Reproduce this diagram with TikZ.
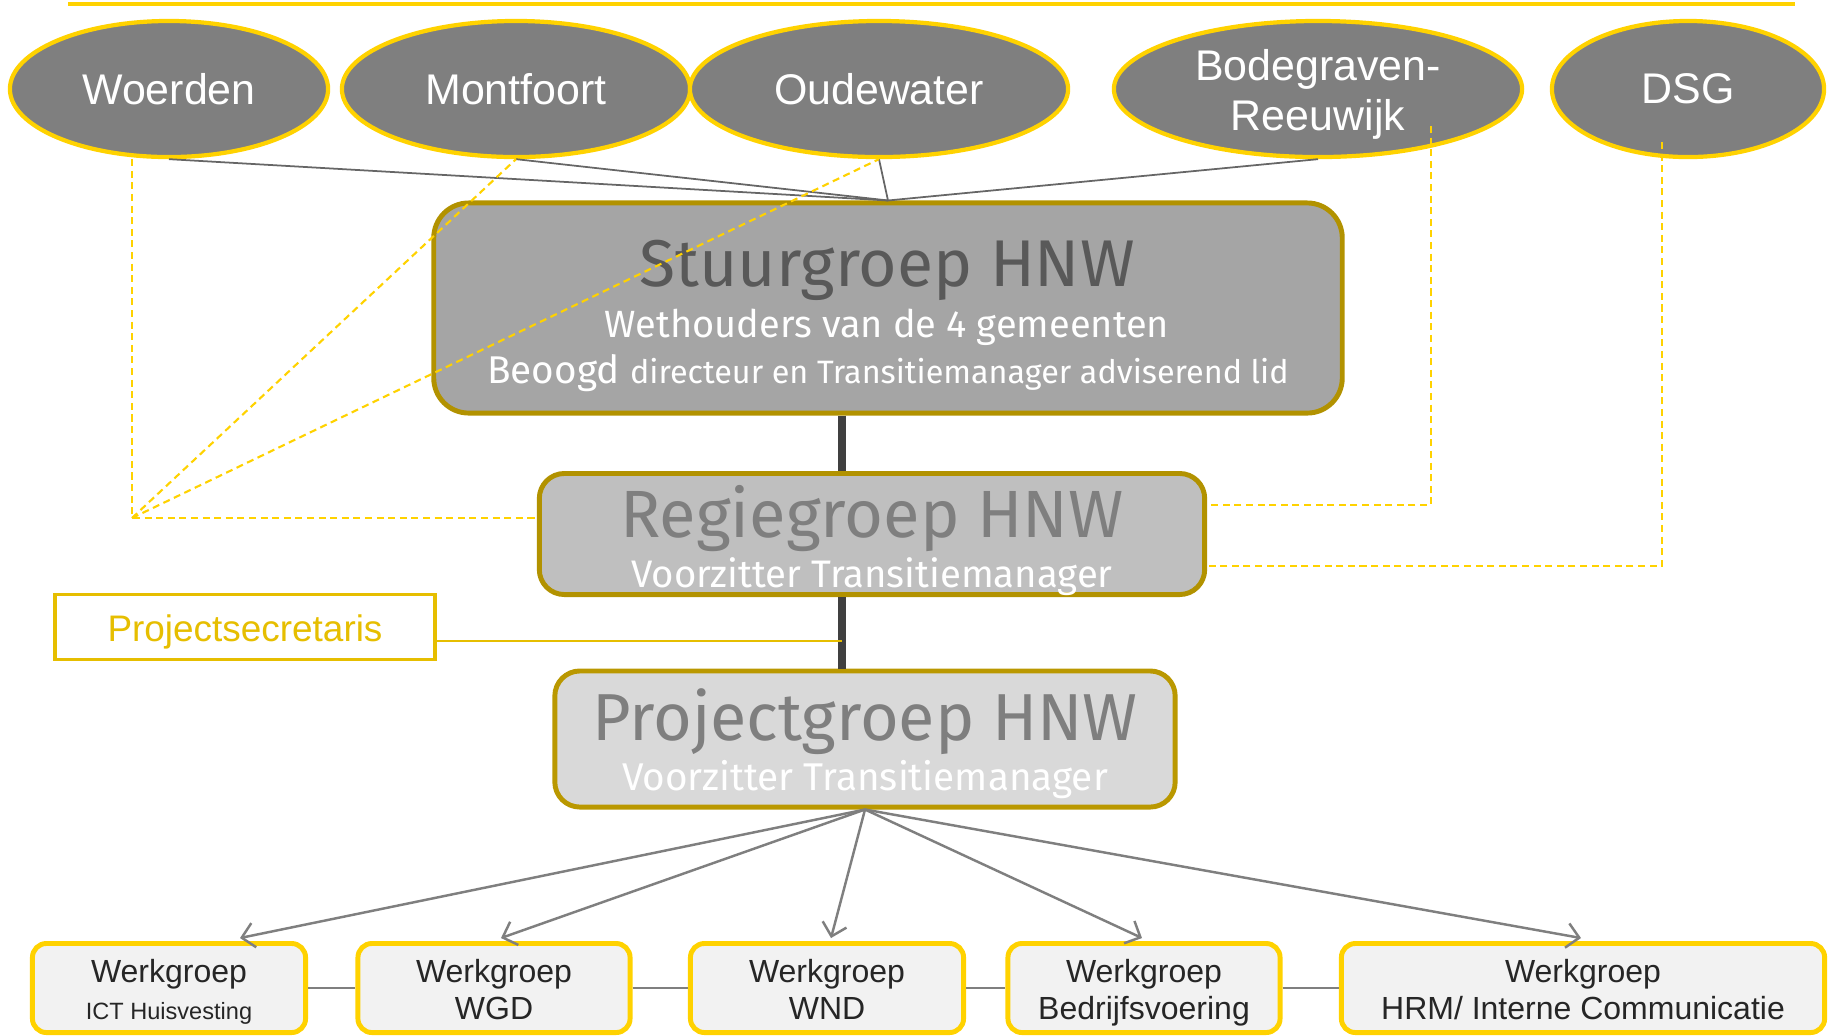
\documentclass[tikz,border=0pt]{standalone}
\usepackage{fontspec}
\setmainfont{Liberation Sans}
\newfontfamily\groepfont{Fira Sans}
\usetikzlibrary{shapes.geometric, arrows.meta, calc}

\definecolor{geel}{RGB}{255,210,0}
\definecolor{donkergeel}{RGB}{178,146,0}
\definecolor{secgeel}{RGB}{230,190,0}
\definecolor{stuurgrijs}{RGB}{165,165,165}
\definecolor{regiegrijs}{RGB}{191,191,191}
\definecolor{projgrijs}{RGB}{217,217,217}
\definecolor{werkgrijs}{RGB}{242,242,242}
\definecolor{lijngrijs}{RGB}{127,127,127}

\begin{document}
\begin{tikzpicture}[x=0.01cm, y=-0.01cm,
	gemeente/.style={ellipse, draw=geel, line width=1.2pt, fill=lijngrijs, text=white, inner sep=0pt, align=center, minimum height=1.36cm, font=\fontsize{12.2}{14.2}\selectfont},
	groep/.style={draw=donkergeel, line width=1.4pt, rounded corners=0.25cm, inner sep=0pt},
	titel/.style={anchor=base, font=\groepfont\fontsize{19}{21}\selectfont},
	sub/.style={anchor=base, text=white, font=\groepfont\fontsize{10.9}{12}\selectfont},
	werk/.style={draw=geel, line width=1.4pt, fill=werkgrijs, rounded corners=0.14cm, text=black!85, align=center, minimum height=0.89cm, inner sep=0pt, text height=17.8pt, text depth=0pt, font=\fontsize{9.1}{10.4}\selectfont},
	stippel/.style={geel, line width=0.6pt, dash pattern=on 2pt off 1.3pt},
	pijl/.style={lijngrijs, line width=0.7pt, -{Straight Barb[length=3.5pt, width=7pt]}}]

	\useasboundingbox (0,0) rectangle (1836,1035);
	\draw[geel, line width=0.9pt] (68,4) -- (1795,4);

	% gemeenten
	\node[gemeente, minimum width=3.18cm] (woerden) at (169,89) {Woerden};
	\node[gemeente, minimum width=3.48cm] (montfoort) at (516,89) {Montfoort};
	\node[gemeente, minimum width=3.78cm] (oudewater) at (879,89) {Oudewater};
	\node[gemeente, minimum width=4.08cm, text height=23.6pt, text depth=0pt] (bodegraven) at (1318,89) {Bodegraven-\\Reeuwijk};
	\node[gemeente, minimum width=2.72cm] (dsg) at (1688,89) {DSG};

	% stuurgroep, regiegroep, projectgroep
	\node[groep, fill=stuurgrijs, minimum width=9.08cm, minimum height=2.10cm, rounded corners=0.35cm] (stuur) at (888,308) {};
	\node[titel, text=black!65, font=\groepfont\fontsize{18.8}{21}\selectfont] (stuurtitel) at (887,286) {Stuurgroep HNW};
	\node[sub, font=\groepfont\fontsize{10.8}{12}\selectfont] (stuursub) at (887,337) {Wethouders van de 4 gemeenten};
	\node[sub, font=\groepfont\fontsize{11}{12}\selectfont] (stuurlid) at (888,383) {Beoogd {\fontsize{9.2}{10}\selectfont directeur en Transitiemanager adviserend lid}};

	\node[groep, fill=regiegrijs, minimum width=6.65cm, minimum height=1.21cm] (regie) at (872,534) {};
	\node[titel, text=lijngrijs] (regietitel) at (872,537) {Regiegroep HNW};
	\node[sub] (regiesub) at (872,587) {Voorzitter Transitiemanager};

	\node[groep, draw=donkergeel!90!geel, fill=projgrijs, minimum width=6.20cm, minimum height=1.36cm] (proj) at (865,739) {};
	\node[titel, text=lijngrijs, font=\groepfont\fontsize{18.9}{21}\selectfont] (projtitel) at (865,740) {Projectgroep HNW};
	\node[sub, font=\groepfont\fontsize{11}{12}\selectfont] (projsub) at (865,790) {Voorzitter Transitiemanager};

	\node[draw=secgeel, line width=1.1pt, fill=white, text=secgeel, minimum width=3.79cm, minimum height=0.65cm, text height=8.5pt, text depth=0pt, font=\fontsize{10.5}{12}\selectfont] (secretaris) at (245,627) {Projectsecretaris};

	% werkgroepen
	\node[werk, minimum width=2.73cm] (wg1) at (169,988) {Werkgroep\\{\fontsize{6.7}{8}\selectfont ICT Huisvesting}};
	\node[werk, minimum width=2.72cm] (wg2) at (494,988) {Werkgroep\\WGD};
	\node[werk, minimum width=2.73cm] (wg3) at (827,988) {Werkgroep\\WND};
	\node[werk, minimum width=2.72cm] (wg4) at (1144,988) {Werkgroep\\Bedrijfsvoering};
	\node[werk, minimum width=4.83cm] (wg5) at (1583,988) {Werkgroep\\HRM/ Interne Communicatie};

	% lijnen
	\coordinate (spil) at (842,0);
	\draw[black!75, line width=2pt] (stuur.south -| spil) -- (regie.north -| spil);
	\draw[black!75, line width=2pt] (regie.south -| spil) -- (proj.north -| spil);
	\coordinate (seceind) at (842,641);
	\draw[secgeel, line width=0.6pt] (secretaris.east |- seceind) -- (seceind);

	\foreach \g in {woerden, montfoort, oudewater, bodegraven}
		\draw[black!60, line width=0.5pt] (\g.south) -- (stuur.north);

	\coordinate (knoop) at (132,518);
	\coordinate (bodeboven) at (1431,126);
	\coordinate (bodehoek) at (1431,505);
	\coordinate (dsgboven) at (1662,142);
	\coordinate (dsghoek) at (1662,566);
	\draw[stippel] (knoop |- woerden.south) -- (knoop) -- (knoop -| regie.west);
	\draw[stippel] (knoop) -- (montfoort.south);
	\draw[stippel] (knoop) -- (oudewater.south);
	\draw[stippel] (bodeboven) -- (bodehoek) -- (regie.east |- bodehoek);
	\draw[stippel] (dsgboven) -- (dsghoek) -- (regie.east |- dsghoek);

	\draw[pijl] (proj.south) -- ($(wg1.north)+(71,-3)$);
	\draw[pijl] (proj.south) -- ($(wg2.north)+(7,-3)$);
	\draw[pijl] (proj.south) -- ($(wg3.north)+(4,-3)$);
	\draw[pijl] (proj.south) -- ($(wg4.north)+(-2,-3)$);
	\draw[pijl] (proj.south) -- ($(wg5.north)+(-2,-3)$);

	\draw[lijngrijs, line width=0.6pt] (wg1) -- (wg2);
	\draw[lijngrijs, line width=0.6pt] (wg2) -- (wg3);
	\draw[lijngrijs, line width=0.6pt] (wg3) -- (wg4);
	\draw[lijngrijs, line width=0.6pt] (wg4) -- (wg5);

\end{tikzpicture}
\end{document}
